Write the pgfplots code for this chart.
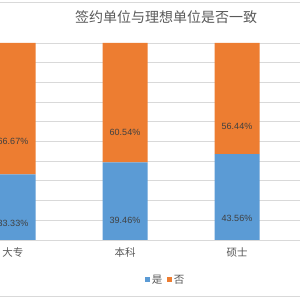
\documentclass[border=0pt]{standalone}
\usepackage{pgfplots}
\usepackage{pgfplotstable}
\pgfplotsset{compat=1.18}
\usepackage{fontspec}
\setmainfont{Liberation Sans}
\newfontfamily\cjk{Noto Sans CJK SC}
\definecolor{cblue}{HTML}{5B9BD5}
\definecolor{corange}{HTML}{ED7D31}
\definecolor{ctext}{HTML}{595959}
\definecolor{clab}{HTML}{404040}
\definecolor{cgrid}{HTML}{D9D9D9}
\pgfplotstableread{
x y h
0 33.33 16.665
1 39.46 19.73
2 43.56 21.78
}\yes
\pgfplotstableread{
x y h
0 66.67 33.335
1 60.54 30.27
2 56.44 28.22
}\no
\begin{document}
\begin{tikzpicture}
\path[use as bounding box] (0,0) rectangle (300pt,300pt);
\begin{scope}
\clip (0,0) rectangle (300pt,300pt);
\fill[white] (0,0) rectangle (300pt,300pt);
\draw[cgrid, line width=1pt] (0,297pt) -- (300pt,297pt);
\draw[cgrid, line width=1pt] (0,3pt) -- (300pt,3pt);
\node[font=\cjk\fontsize{14}{14}\selectfont, text=ctext] at (166pt,283pt) {签约单位与理想单位是否一致};
\begin{axis}[at={(-43pt,60pt)}, anchor=south west, scale only axis,
  width=343pt, height=197pt,
  xmin=-0.5, xmax=2.5625, ymin=0, ymax=100,
  ybar stacked, bar width=45pt,
  axis line style={draw=none},
  tick style={draw=none},
  ytick={0,10,...,100}, yticklabels={},
  ymajorgrids, major grid style={cgrid, line width=0.8pt},
  xtick={0,1,2}, xticklabels={大专,本科,硕士},
  xticklabel style={font=\cjk\fontsize{10.5}{10.5}\selectfont, text=ctext, yshift=-4pt},
  legend columns=2,
  legend style={at={(0.609,-0.203)}, anchor=center, draw=none, fill=none,
    font=\cjk\fontsize{10.5}{10.5}\selectfont, text=ctext,
    /tikz/every even column/.append style={column sep=3pt}},
  legend image code/.code={\fill[#1] (0pt,-2pt) rectangle (4.5pt,2.5pt);},
  /pgf/number format/assume math mode=true,
  nodes near coords={\pgfmathprintnumber[fixed,fixed zerofill,precision=2,assume math mode=true]{\pgfplotspointmeta}\%},
  visualization depends on={\thisrow{h} \as \half},
  every node near coord/.append style={font=\fontsize{9}{9}\selectfont, text=clab, anchor=center,
    yshift=-0.985pt*\half},
]
\addplot[fill=cblue, draw=none, point meta=\thisrow{y}] table[x=x,y=y] {\yes};
\addplot[fill=corange, draw=none, point meta=\thisrow{y}] table[x=x,y=y] {\no};
\legend{是,否}
\end{axis}
\end{scope}
\end{tikzpicture}
\end{document}
